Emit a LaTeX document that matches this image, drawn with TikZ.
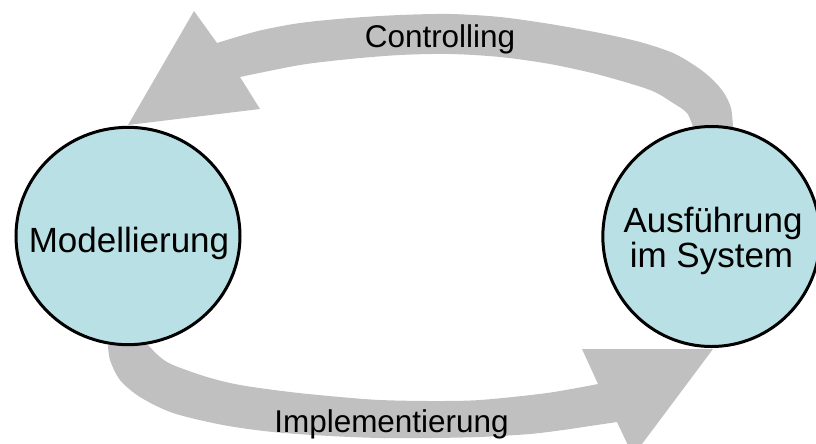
\documentclass[tikz,border=0pt]{standalone}
\usepackage{fontspec}
\setmainfont{Liberation Sans}
\usetikzlibrary{shapes.geometric}
\definecolor{bandgray}{RGB}{192,192,192}
\definecolor{blobfill}{RGB}{185,224,228}
\begin{document}
\begin{tikzpicture}[x=0.75pt,y=-0.75pt,
  band/.style={fill=bandgray},
  blob/.style={ellipse, draw=black, line width=2.25pt, fill=blobfill, inner sep=0pt},
  bigtxt/.style={font=\fontsize{26.25pt}{30pt}\selectfont, inner sep=0pt, anchor=base},
  arrtxt/.style={font=\fontsize{23.6pt}{28pt}\selectfont, inner sep=0pt, anchor=base}]
\path[use as bounding box, clip] (0,0) rectangle (816,443);

% top block arrow (Controlling)
\fill[band] plot[smooth] coordinates {(733,127) (731,108) (724,93) (713,80) (697,67) (673,53) (640,42) (600,33) (550,24) (500,17) (450,14) (400,15) (350,18) (300,23) (258,31) (217,43)}
  -- (194,11) -- (128,125) -- (260,109) -- (240,77)
  -- plot[smooth] coordinates {(240,77) (300,65) (350,59) (400,55) (450,54) (500,57) (550,64) (600,75) (650,90) (673,103) (687,113) (693,127)}
  -- cycle;

% bottom block arrow (Implementierung)
\fill[band] plot[smooth] coordinates {(148,345) (160,357) (173,365) (207,377) (240,385) (290,392) (340,397) (380,400) (430,401) (480,400) (547,393) (598,384)}
  -- (582,349) -- (713,349) -- (633,456) -- (617,422)
  -- plot[smooth] coordinates {(617,422) (590,426) (563,430) (530,434) (480,437) (430,438) (380,438) (330,436) (273,432) (223,425) (173,413) (140,397) (120,380) (110,360) (108,345)}
  -- cycle;

\node[blob, minimum width=168pt, minimum height=163pt] (mod) at (128,236) {};
\node[blob, minimum width=163pt, minimum height=165pt] (aus) at (711.5,236.5) {};

\node[bigtxt] (modtxt) at (129,252) {Modellierung};
\node[bigtxt] (aus1) at (713,232) {Ausführung};
\node[bigtxt] (aus2) at (711.5,267) {im System};

\node[arrtxt] (ctl) at (440,47) {Controlling};
\node[arrtxt] (impl) at (391.5,432) {Implementierung};
\end{tikzpicture}
\end{document}
